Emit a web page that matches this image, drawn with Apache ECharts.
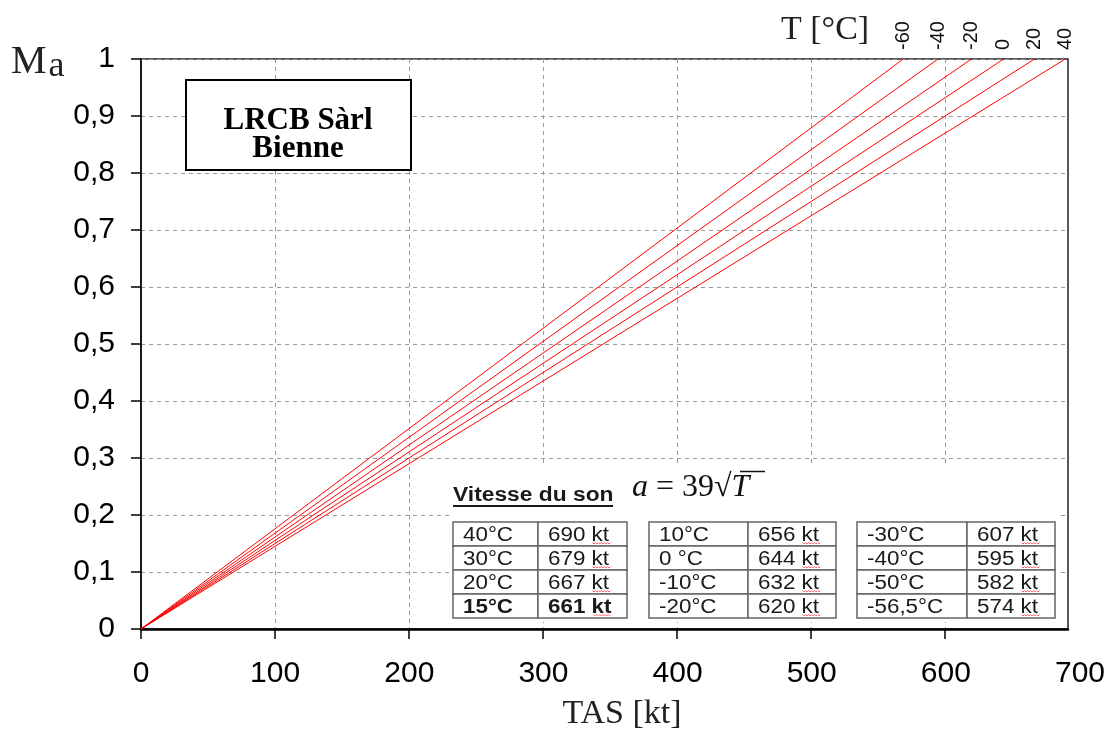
<!DOCTYPE html>
<html><head><meta charset="utf-8">
<script src="https://cdn.jsdelivr.net/npm/echarts@6/dist/echarts.min.js"></script>
<style>html,body{margin:0;padding:0;background:#fff}#c{width:1112px;height:731px}</style>
</head><body><div id="c"></div>
<script>
// ---- data ----
const temperatures = ['-60', '-40', '-20', '0', '20', '40'];      // T [°C]
const speedsAtMach1 = [569, 595, 620, 644, 667, 690];             // TAS [kt] where Ma = 1
const xTickLabels = [0, 100, 200, 300, 400, 500, 600, 700];
const xGridTicks = [0, 100, 200, 300, 400, 500, 600];
const tableTemps1 = ['40°C', '30°C', '20°C', '15°C'];
const tableSpeeds1 = ['690 kt', '679 kt', '667 kt', '661 kt'];
const tableTemps2 = ['10°C', '0 °C', '-10°C', '-20°C'];
const tableSpeeds2 = ['656 kt', '644 kt', '632 kt', '620 kt'];
const tableTemps3 = ['-30°C', '-40°C', '-50°C', '-56,5°C'];
const tableSpeeds3 = ['607 kt', '595 kt', '582 kt', '574 kt'];
const boldRow = '15°C';

// ---- layout ----
const SANS = '"Liberation Sans", Arial, sans-serif';
const SERIF = '"Liberation Serif", "Times New Roman", serif';
const chart = echarts.init(document.getElementById('c'), null, {renderer: 'canvas'});

const series = temperatures.map((t, i) => ({
  name: t,
  type: 'line',
  xAxisIndex: 0, yAxisIndex: 0,
  data: [[0, 0], [speedsAtMach1[i], 1]],
  showSymbol: true,
  symbol: 'circle',
  symbolSize: 0,
  lineStyle: {color: '#ff0000', width: 1},
  itemStyle: {color: '#ff0000'},
  label: {
    show: true,
    formatter: p => (p.dataIndex === 1 ? t : ''),
    position: 'top',
    distance: 9,
    rotate: 90,
    align: 'left',
    verticalAlign: 'middle',
    fontFamily: SANS,
    fontSize: 20,
    color: '#111'
  },
  emphasis: {disabled: true},
  silent: true,
  z: 3
}));

// table graphics
const groups = [
  {temps: tableTemps1, speeds: tableSpeeds1, cols: [453, 538, 627]},
  {temps: tableTemps2, speeds: tableSpeeds2, cols: [649, 748, 836]},
  {temps: tableTemps3, speeds: tableSpeeds3, cols: [857, 967, 1055]}
];
const tableTop = 522, rowH = 24, SX = 1.12;
const tableEls = [];
tableEls.push({type: 'rect', shape: {x: 449, y: 463, width: 609, height: 159}, style: {fill: '#fff'}, z: 20});
function squiggle(x0, x1, y) {
  const pts = [];
  for (let x = x0, k = 0; x <= x1; x += 1.5, k++) pts.push([x, y + (k % 2 ? 1 : -0.5)]);
  return {type: 'polyline', shape: {points: pts}, style: {stroke: '#ff5a5a', lineWidth: 0.9, fill: null}, z: 23};
}
groups.forEach(g => {
  g.temps.forEach((tp, r) => {
    const y = tableTop + r * rowH;
    const bold = tp === boldRow;
    [[g.cols[0], g.cols[1], tp], [g.cols[1], g.cols[2], g.speeds[r]]].forEach(([x0, x1, txt], c) => {
      tableEls.push({type: 'rect', shape: {x: x0, y: y, width: x1 - x0, height: rowH},
        style: {fill: '#fff', stroke: '#666', lineWidth: 1.5}, z: 21});
      tableEls.push({type: 'text', x: x0 + 10, y: y + rowH / 2 + 1, scaleX: SX, z: 22,
        style: {text: txt, fill: '#1a1a1a', font: (bold ? 'bold ' : '') + '20px ' + SANS,
          verticalAlign: 'middle', align: 'left'}});
      if (c === 1) tableEls.push(squiggle(x0 + 10 + 44.5 * (bold ? 1.03 : 1), x0 + 10 + 63, y + rowH - 3));
    });
  });
});
// title of the table
tableEls.push({type: 'text', x: 453, y: 495, scaleX: 1.14, z: 22,
  style: {text: 'Vitesse du son', fill: '#1a1a1a', font: 'bold 20px ' + SANS, verticalAlign: 'middle'}});
tableEls.push({type: 'line', shape: {x1: 453, y1: 506, x2: 613, y2: 506}, style: {stroke: '#1a1a1a', lineWidth: 2}, z: 22});
// formula
tableEls.push({type: 'text', x: 632, y: 488, z: 22,
  style: {text: '{i|a} = 39√{i|T}', fill: '#111', fontFamily: SERIF, fontSize: 32, verticalAlign: 'middle',
    rich: {i: {fontStyle: 'italic', fontFamily: SERIF, fontSize: 32}}}});
tableEls.push({type: 'line', shape: {x1: 740, y1: 471.5, x2: 765, y2: 471.5}, style: {stroke: '#111', lineWidth: 1.5}, z: 22});

const option = {
  animation: false,
  backgroundColor: '#fff',
  grid: [
    {left: 141, right: 44, top: 59, bottom: 102, show: true, borderColor: '#222', borderWidth: 1.5, backgroundColor: 'transparent'},
    {left: 141, right: 32, top: 59, bottom: 102, show: false}
  ],
  xAxis: [
    {type: 'value', gridIndex: 0, min: 0, max: 692, interval: 100,
      axisLine: {show: true, onZero: false, lineStyle: {color: '#000', width: 2.5}},
      axisTick: {show: true, length: 10, customValues: xGridTicks, lineStyle: {color: '#000', width: 1.5}},
      axisLabel: {show: false},
      splitLine: {show: true, lineStyle: {color: '#999', type: [4, 4], width: 1}}},
    {type: 'value', gridIndex: 1, min: 0, max: 700, interval: 100,
      axisLine: {show: false}, axisTick: {show: false}, splitLine: {show: false},
      axisLabel: {show: true, customValues: xTickLabels, margin: 30, fontFamily: SANS, fontSize: 30, color: '#000'}}
  ],
  yAxis: [
    {type: 'value', gridIndex: 0, min: 0, max: 1, interval: 0.1,
      axisLine: {show: true, lineStyle: {color: '#000', width: 1.5}},
      axisTick: {show: true, length: 10, lineStyle: {color: '#000', width: 1.5}},
      axisLabel: {margin: 26, fontFamily: SANS, fontSize: 30, color: '#000',
        formatter: v => String(+v.toFixed(1)).replace('.', ',')},
      splitLine: {show: true, lineStyle: {color: '#999', type: [4, 4], width: 1}}},
    {type: 'value', gridIndex: 1, min: 0, max: 1, show: false}
  ],
  series: series,
  graphic: [
    // company box
    {type: 'rect', shape: {x: 186, y: 80, width: 225, height: 90}, style: {fill: '#fff', stroke: '#000', lineWidth: 2}, z: 20},
    {type: 'text', x: 298, y: 121, z: 21, style: {text: 'LRCB Sàrl', font: 'bold 31px ' + SERIF, fill: '#000', align: 'center', verticalAlign: 'middle'}},
    {type: 'text', x: 298, y: 149, z: 21, style: {text: 'Bienne', font: 'bold 31px ' + SERIF, fill: '#000', align: 'center', verticalAlign: 'middle'}},
    // axis names
    {type: 'text', x: 11, y: 62, z: 21, style: {text: 'M{s|a}', fill: '#222', fontFamily: SERIF, fontSize: 40, verticalAlign: 'middle',
      rich: {s: {fontFamily: SERIF, fontSize: 36, padding: [10, 0, 0, 2]}}}},
    {type: 'text', x: 622, y: 714, z: 21, style: {text: 'TAS [kt]', fill: '#222', font: '34px ' + SERIF, align: 'center', verticalAlign: 'middle'}},
    {type: 'text', x: 781, y: 30, z: 21, style: {text: 'T [°C]', fill: '#222', font: '34px ' + SERIF, verticalAlign: 'middle'}},
    ...tableEls
  ]
};
chart.setOption(option);
</script>
</body></html>
